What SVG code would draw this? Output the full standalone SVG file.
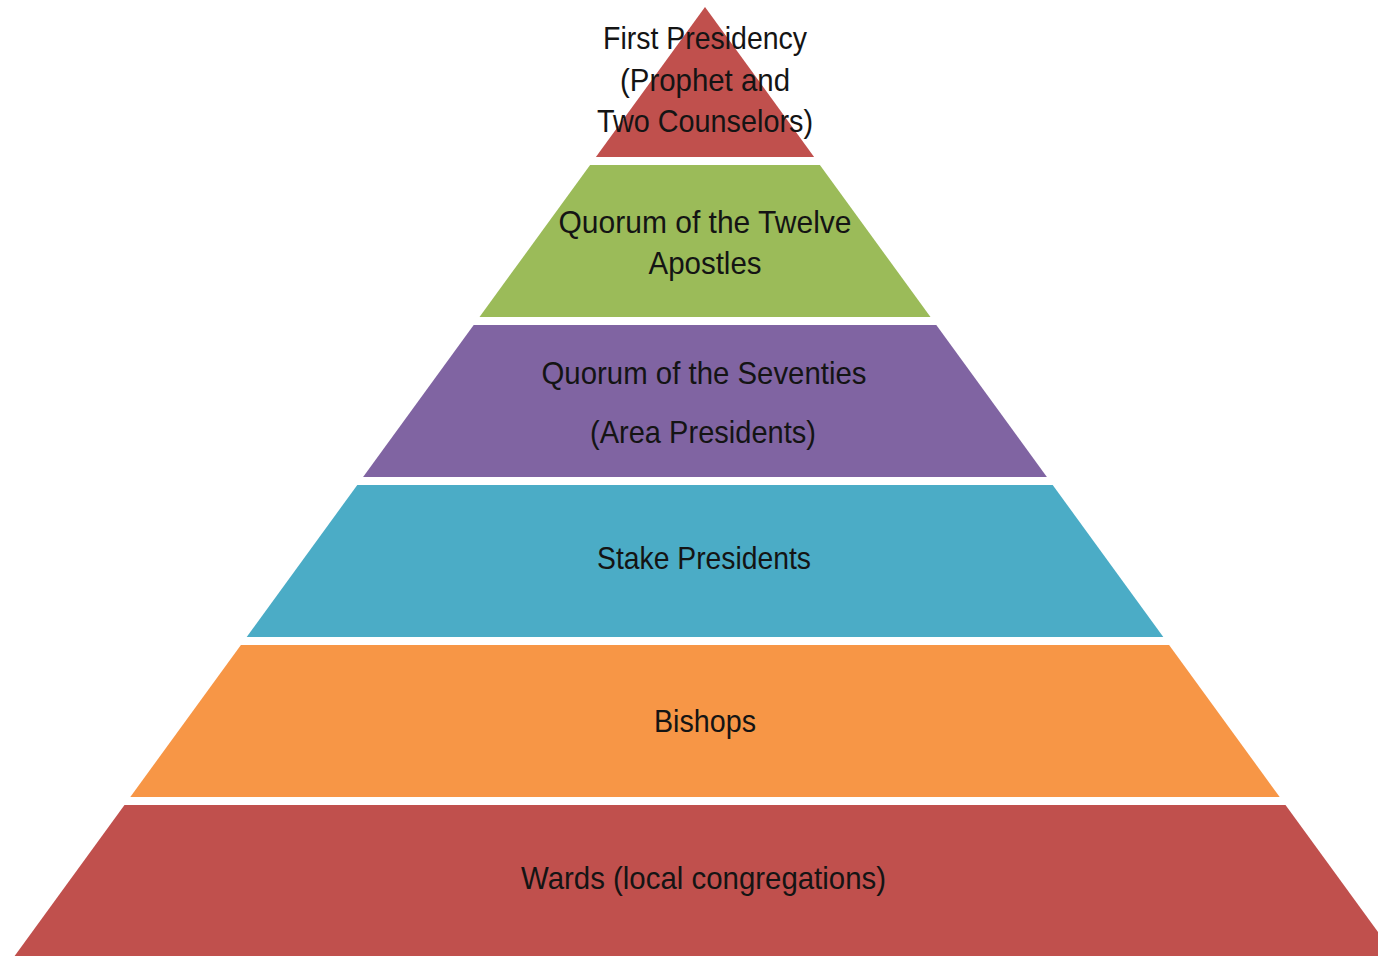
<svg xmlns="http://www.w3.org/2000/svg" width="1378" height="956" viewBox="0 0 1378 956">
  <style>
    .lbl { font-family: "Liberation Sans", Arial, sans-serif; font-size: 32px; fill: #141414; text-anchor: middle; }
    .red { fill: #C0504D; }
    .green { fill: #9BBB59; }
    .purple { fill: #8064A2; }
    .blue { fill: #4BACC6; }
    .orange { fill: #F79646; }
  </style>
  <rect width="1378" height="956" fill="#ffffff"/>
  <g id="first-presidency">
    <polygon class="red" points="705,7 814.1,157 595.9,157"/>
    <text class="lbl" x="705" y="49" textLength="204" lengthAdjust="spacingAndGlyphs">First Presidency</text>
    <text class="lbl" x="705" y="91" textLength="170" lengthAdjust="spacingAndGlyphs">(Prophet and</text>
    <text class="lbl" x="705" y="132" textLength="216" lengthAdjust="spacingAndGlyphs">Two Counselors)</text>
  </g>
  <g id="twelve-apostles">
    <polygon class="green" points="590.1,165 819.9,165 930.5,317 479.5,317"/>
    <text class="lbl" x="705" y="233" textLength="293" lengthAdjust="spacingAndGlyphs">Quorum of the Twelve</text>
    <text class="lbl" x="705" y="274" textLength="113" lengthAdjust="spacingAndGlyphs">Apostles</text>
  </g>
  <g id="seventies">
    <polygon class="purple" points="473.7,325 936.3,325 1046.9,477 363.1,477"/>
    <text class="lbl" x="704" y="384" textLength="325" lengthAdjust="spacingAndGlyphs">Quorum of the Seventies</text>
    <text class="lbl" x="703" y="443" textLength="226" lengthAdjust="spacingAndGlyphs">(Area Presidents)</text>
  </g>
  <g id="stake-presidents">
    <polygon class="blue" points="357.3,485 1052.7,485 1163.3,637 246.7,637"/>
    <text class="lbl" x="704" y="569" textLength="214" lengthAdjust="spacingAndGlyphs">Stake Presidents</text>
  </g>
  <g id="bishops">
    <polygon class="orange" points="240.9,645 1169.1,645 1279.7,797 130.3,797"/>
    <text class="lbl" x="705" y="732" textLength="102" lengthAdjust="spacingAndGlyphs">Bishops</text>
  </g>
  <g id="wards">
    <polygon class="red" points="124.5,805 1285.5,805 1398.3,960 11.7,960"/>
    <text class="lbl" x="703.5" y="889" textLength="365" lengthAdjust="spacingAndGlyphs">Wards (local congregations)</text>
  </g>
  <g id="connectors"/>
</svg>
